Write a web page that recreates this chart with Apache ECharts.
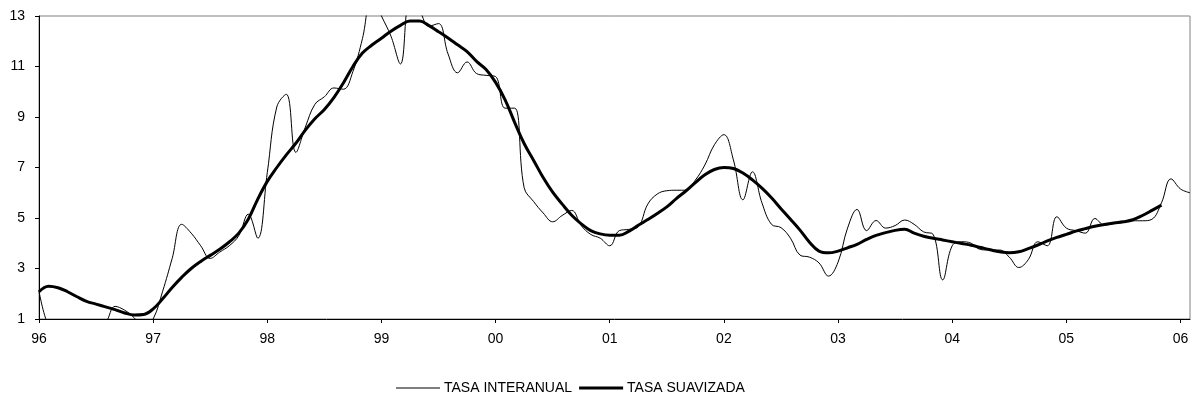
<!DOCTYPE html>
<html>
<head>
<meta charset="utf-8">
<script src="https://cdn.jsdelivr.net/npm/echarts@6/dist/echarts.min.js"></script>
<style>
html,body{margin:0;padding:0;background:#fff;}
#chart{width:1203px;height:403px;}
</style>
</head>
<body>
<div id="chart"></div>
<script>
// Year tick labels (one per January)
var yearLabels = ['96','97','98','99','00','01','02','03','04','05','06'];
var months = ['01','02','03','04','05','06','07','08','09','10','11','12'];

// TASA INTERANUAL (monthly, Jan-96 .. Feb-06)
var tasaInteranual = [
  2.1, 0.7, 0.3, 0.2, 0.2, 0.4, 0.6, 0.85, 1.5, 1.35, 1.05, 0.6,
  1.0, 2.1, 3.4, 4.75, 4.4, 3.9, 3.4, 3.65, 3.9, 4.3, 5.15, 4.2,
  6.8, 9.4, 9.9, 7.6, 8.6, 9.5, 9.8, 10.15, 10.1, 10.8, 12.1, 13.8,
  13.0, 12.2, 11.1, 13.6, 13.2, 12.6, 12.7, 11.5, 10.75, 11.18, 10.72, 10.65,
  10.6, 9.35, 9.35, 6.2, 5.65, 5.2, 4.85, 5.1, 5.3, 4.7, 4.35, 4.2,
  3.9, 4.5, 4.55, 4.65, 5.55, 5.95, 6.08, 6.1, 6.1, 6.5, 7.1, 7.9,
  8.3, 7.3, 5.72, 6.83, 5.6, 4.75, 4.62, 4.2, 3.53, 3.45, 3.22, 2.7,
  3.25, 4.6, 5.34, 4.5, 4.9, 4.6, 4.7, 4.92, 4.75, 4.45, 4.35, 2.55,
  3.9, 4.06, 4.0, 3.75, 3.73, 3.73, 3.45, 3.04, 3.35, 4.06, 3.9, 5.05,
  4.6, 4.5, 4.4, 4.98, 4.72, 4.78, 4.85, 4.89, 4.89, 4.95, 5.6, 6.55,
  6.15, 6.0
];

// TASA SUAVIZADA (monthly, Jan-96 .. Nov-05)
var tasaSuavizada = [
  2.08, 2.30, 2.24, 2.08, 1.88, 1.70, 1.59, 1.48, 1.37, 1.24, 1.16, 1.18,
  1.40, 1.80, 2.25, 2.65, 3.00, 3.28, 3.52, 3.76, 4.05, 4.40, 4.95, 5.75,
  6.45, 7.00, 7.50, 7.96, 8.48, 8.93, 9.30, 9.77, 10.35, 11.00, 11.53, 11.85,
  12.12, 12.40, 12.63, 12.80, 12.80, 12.62, 12.38, 12.13, 11.86, 11.59, 11.20, 10.88,
  10.37, 9.68, 8.79, 7.95, 7.28, 6.60, 6.02, 5.55, 5.11, 4.77, 4.50, 4.37,
  4.32, 4.32, 4.47, 4.71, 4.94, 5.18, 5.44, 5.77, 6.07, 6.40, 6.71, 6.92,
  7.00, 6.96, 6.78, 6.51, 6.18, 5.80, 5.37, 4.95, 4.52, 4.04, 3.69, 3.62,
  3.69, 3.82, 3.96, 4.15, 4.31, 4.42, 4.51, 4.55, 4.40, 4.28, 4.20, 4.13,
  4.06, 3.99, 3.92, 3.83, 3.74, 3.66, 3.62, 3.66, 3.79, 3.93, 4.09, 4.23,
  4.35, 4.48, 4.58, 4.67, 4.74, 4.80, 4.85, 4.93, 5.10, 5.30, 5.51
];

var categories = [];
for (var i = 0; i < tasaInteranual.length; i++) {
  categories.push(yearLabels[Math.floor(i / 12)] + '-' + months[i % 12]);
}

var chart = echarts.init(document.getElementById('chart'), null, {renderer: 'canvas'});
var font = 'Liberation Sans, Arial, sans-serif';
chart.setOption({
  animation: false,
  backgroundColor: '#ffffff',
  grid: {
    left: 39, right: 13, top: 16, bottom: 84,
    show: true, borderColor: '#808080', borderWidth: 1, backgroundColor: 'transparent'
  },
  legend: {
    bottom: 3,
    left: 391,
    itemWidth: 44,
    itemHeight: 10,
    itemGap: 7,
    symbolKeepAspect: true,
    textStyle: {color: '#000', fontFamily: font, fontSize: 14, padding: [0, 0, 0, -1]},
    data: [
      {name: 'TASA INTERANUAL', icon: 'path://M0,0L44,0L44,1L0,1Z'},
      {name: 'TASA SUAVIZADA', icon: 'path://M0,0L44,0L44,3L0,3Z'}
    ]
  },
  xAxis: {
    type: 'category',
    boundaryGap: false,
    data: categories,
    axisLine: {lineStyle: {color: '#000', width: 1}},
    axisTick: {
      show: true, length: 4, lineStyle: {color: '#000'},
      interval: function (idx) { return idx % 12 === 0; }
    },
    axisLabel: {
      interval: function (idx) { return idx % 12 === 0; },
      formatter: function (v, idx) { return yearLabels[idx / 12]; },
      color: '#000', fontFamily: font, fontSize: 14, margin: 13
    },
    splitLine: {show: false}
  },
  yAxis: {
    type: 'value',
    min: 1, max: 13, interval: 2,
    axisLine: {show: true, lineStyle: {color: '#000', width: 1}},
    axisTick: {show: true, length: 4, lineStyle: {color: '#000'}},
    axisLabel: {color: '#000', fontFamily: font, fontSize: 14, margin: 14},
    splitLine: {show: false}
  },
  series: [
    {
      name: 'TASA INTERANUAL',
      type: 'line',
      data: tasaInteranual,
      symbol: 'none',
      smooth: 0.4,
      clip: true,
      lineStyle: {color: '#000', width: 1},
      itemStyle: {color: '#000'},
      z: 2
    },
    {
      name: 'TASA SUAVIZADA',
      type: 'line',
      data: tasaSuavizada,
      symbol: 'none',
      smooth: 0.4,
      clip: true,
      lineStyle: {color: '#000', width: 3},
      itemStyle: {color: '#000'},
      z: 3
    }
  ]
});
</script>
</body>
</html>
